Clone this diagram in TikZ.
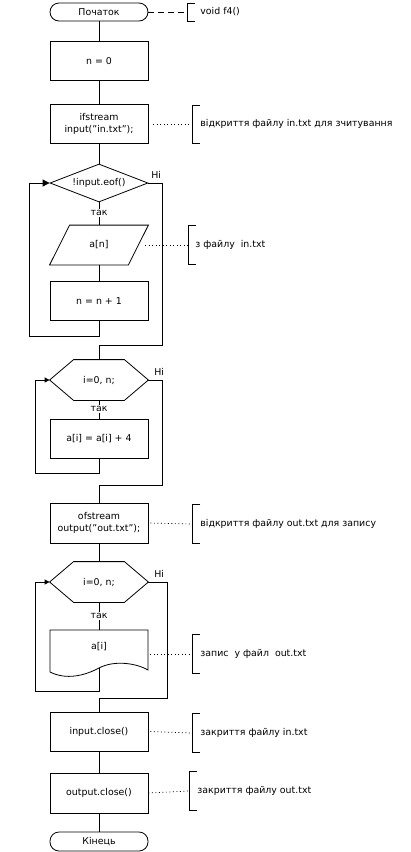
\documentclass[tikz,border=0pt]{standalone}
\usepackage{fontspec}
\setmainfont{DejaVu Sans}
\usetikzlibrary{shapes.geometric,arrows.meta}

% bracket of a side note: #1 its middle, #2 half its height
\newcommand{\sidebracket}[2]{%
  \draw ([shift={(8pt,#2)}]#1) -- ([yshift=#2]#1) -- ([yshift=-#2]#1) -- ([shift={(8pt,-#2)}]#1);}

\begin{document}
\begin{tikzpicture}[x=1pt,y=-1pt,line width=0.8pt,
  every node/.style={font=\fontsize{9.4}{12}\selectfont},
  term/.style={draw,rounded corners=9pt,minimum width=98pt,minimum height=18pt,inner sep=0pt},
  procbox/.style={draw,minimum width=98pt,minimum height=39pt,inner sep=1pt,align=center},
  shapebox/.style={minimum width=98pt,minimum height=40pt,inner sep=0pt},
  notetext/.style={anchor=west,inner sep=0pt},
  dotline/.style={line width=0.7pt,dash pattern=on 1pt off 2.5pt},
  yeslabel/.style={fill=white,inner sep=1pt},
  backarrow/.style={-{Triangle[length=#1,width=#1]}},
  backarrow/.default=5pt
]
\useasboundingbox (0,0) rectangle (410,852);

%the blocks of the main column
\node [term] (start) at (99,12) {Початок};
\node [procbox] (n0) at (99,61) {n = 0};
\node [procbox] (ifs) at (99,124) {ifstream\\input(\symbol{34}in.txt\symbol{34});};

\node [draw,diamond,aspect=2.58,minimum width=98pt,minimum height=38pt,inner sep=0pt] (eof) at (99,183) {!input.eof()};
\node [shapebox,minimum height=39pt] (an) at (99,245) {a[n]};
\draw ([xshift=20pt]an.north west) -- (an.north east) -- ([xshift=-20pt]an.south east) -- (an.south west) -- cycle;
\node [procbox] (inc) at (99,301) {n = n + 1};

\node [shapebox] (hex1) at (99,380) {i=0, n;};
\draw (hex1.west) -- ([xshift=24pt]hex1.north west) -- ([xshift=-24pt]hex1.north east) -- (hex1.east)
      -- ([xshift=-24pt]hex1.south east) -- ([xshift=24pt]hex1.south west) -- cycle;
\node [procbox] (add4) at (99,438.5) {a[i] = a[i] + 4};

\node [procbox,minimum height=40pt] (ofs) at (99,523) {ofstream\\output(\symbol{34}out.txt\symbol{34});};

\node [shapebox] (hex2) at (99,582) {i=0, n;};
\draw (hex2.west) -- ([xshift=24pt]hex2.north west) -- ([xshift=-24pt]hex2.north east) -- (hex2.east)
      -- ([xshift=-24pt]hex2.south east) -- ([xshift=24pt]hex2.south west) -- cycle;

%document block with a wavy bottom
\node [minimum width=98pt,inner sep=0pt] (doc) at (99,647) {a[i]};
\coordinate (docw) at (99,668);
\draw (50,672) -- (50,630) -- (148,630) -- (148,670)
      .. controls (136,663) and (114,660) .. (docw)
      .. controls (84,676) and (66,680) .. (50,672);

\node [procbox] (ic) at (99,731.5) {input.close()};
\node [procbox,minimum height=40pt] (oc) at (99,793) {output.close()};
\node [term,minimum height=19pt] (stop) at (99,841.5) {Кінець};

%connectors
\draw (start) -- (n0);
\draw (n0) -- (ifs);
\draw (ifs) -- (eof);
\draw (eof) -- (an) node [yeslabel] (yes1) at (99,213) {так};
\draw (an) -- (inc);
\draw [backarrow=7pt] (inc.south) |- ++(-70,15) |- (eof.west);
\draw (eof.east) -| ++(14,162) -| (hex1.north);
\node [anchor=south west,inner sep=0pt] (no1) at (151,179) {Ні};

\draw (hex1) -- (add4) node [yeslabel] (yes2) at (99,409) {так};
\draw [backarrow] (add4.south) |- ++(-64,15) |- (hex1.west);
\draw (hex1.east) -| ++(14,105) -| (ofs.north);
\node [anchor=south west,inner sep=0pt] (no2) at (154,376) {Ні};

\draw (ofs) -- (hex2);
\draw (hex2.south) -- (99,630) node [yeslabel] (yes3) at (99,616) {так};
\draw [backarrow] (docw) |- ++(-64,23) |- (hex2.west);
\draw (hex2.east) -| ++(19,116) -| (ic.north);
\node [anchor=south west,inner sep=0pt] (no3) at (154,578) {Ні};

\draw (ic) -- (oc);
\draw (oc) -- (stop);

%side notes
\coordinate (b0) at (187,12);
\draw [dash pattern=on 6pt off 4pt] (start.east) -- (b0);
\sidebracket{b0}{9pt}
\node [notetext] (c0) at (200,12) {void f4()};

\coordinate (b1) at (192,124);
\draw [dotline,shorten <=5pt] (ifs.east) -- (b1);
\sidebracket{b1}{19pt}
\node [notetext] (c1) at (200,124) {відкриття файлу in.txt для зчитування};

\coordinate (b2) at (188,245);
\draw [dotline] ([xshift=-3pt]an.east) -- (b2);
\sidebracket{b2}{19.5pt}
\node [notetext] (c2) at (195,245) {з файлу\ \ in.txt};

\coordinate (b3) at (192,524);
\draw [dotline,shorten <=2pt] (ofs.east) -- (b3);
\sidebracket{b3}{19.5pt}
\node [notetext] (c3) at (200,524) {відкриття файлу out.txt для запису};

\coordinate (b4) at (192,654);
\draw [dotline,shorten <=2pt] ([yshift=-7pt]doc.east) -- (b4);
\sidebracket{b4}{19.5pt}
\node [notetext] (c4) at (200,654) {запис\ \ у файл\ \ out.txt};

\coordinate (b5) at (192,733);
\draw [dotline,shorten <=2pt] (ic.east) -- (b5);
\sidebracket{b5}{19.5pt}
\node [notetext] (c5) at (200,733) {закриття файлу in.txt};

\coordinate (b6) at (189,791);
\draw [dotline] (oc.east) -- (b6);
\sidebracket{b6}{19.5pt}
\node [notetext] (c6) at (197,791) {закриття файлу out.txt};

\end{tikzpicture}
\end{document}
